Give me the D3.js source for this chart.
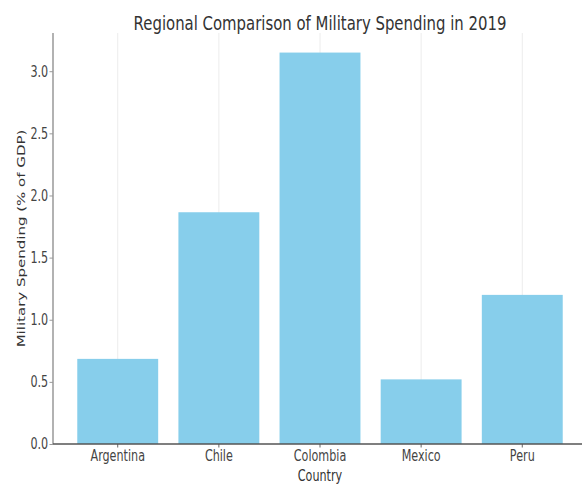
<!DOCTYPE html>
<html>
<head>
<meta charset="utf-8">
<script src="https://cdn.jsdelivr.net/npm/d3@7"></script>
<style>
  body { margin: 0; background: #fff; }
  text { font-family: "DejaVu Sans", sans-serif; fill: #333; }
</style>
</head>
<body>
<svg id="chart" width="582" height="484"></svg>
<script>
// values
const countries = ["Argentina", "Chile", "Colombia", "Mexico", "Peru"];
const spending = [0.685, 1.865, 3.15, 0.52, 1.2];
const yTicks = [0, 0.5, 1.0, 1.5, 2.0, 2.5, 3.0];

const svgWidth = 582, svgHeight = 484;
const plotLeft = 53, plotRight = 587, plotTop = 33, plotBottom = 444;
const barColor = "#87ceeb";
// the source picture looks squeezed sideways, so text is narrowed the same way
const squeeze = 0.745;

const svg = d3.select("#chart");

let x = d3.scaleBand()
  .domain(countries)
  .range([plotLeft, plotRight])
  .paddingInner(0.2)
  .paddingOuter(0.24);

let y = d3.scaleLinear()
  .domain([0, d3.max(spending) * 1.05])
  .range([plotBottom, plotTop]);

// vertical grid at each category
svg.append("g")
  .selectAll("line")
  .data(countries)
  .enter()
  .append("line")
  .attr("x1", d => x(d) + x.bandwidth() / 2)
  .attr("x2", d => x(d) + x.bandwidth() / 2)
  .attr("y1", plotTop)
  .attr("y2", plotBottom)
  .style("stroke", "#ececec")
  .style("stroke-width", 1);

// bars
svg.append("g")
  .selectAll("rect")
  .data(spending)
  .enter()
  .append("rect")
  .attr("x", (d, i) => x(countries[i]))
  .attr("y", d => y(d))
  .attr("width", x.bandwidth())
  .attr("height", d => plotBottom - y(d))
  .style("fill", barColor);

// y axis
let yAxis = svg.append("g")
  .attr("transform", "translate(" + plotLeft + ",0)")
  .call(d3.axisLeft(y).tickValues(yTicks).tickFormat(d3.format(".1f")).tickSizeOuter(0).tickSize(3.5).tickPadding(3));
yAxis.select(".domain").remove();
yAxis.selectAll(".tick line").style("stroke", "#999");
yAxis.selectAll("text")
  .attr("transform", "scale(" + squeeze + ",1)")
  .style("font-size", "15px").style("fill", "#444");

// x axis
let xAxis = svg.append("g")
  .attr("transform", "translate(0," + plotBottom + ")")
  .call(d3.axisBottom(x).tickSizeOuter(0).tickSize(3.5).tickPadding(3));
xAxis.select(".domain").remove();
xAxis.selectAll(".tick line").style("stroke", "#666");
xAxis.selectAll("text")
  .attr("transform", "scale(" + squeeze + ",1)")
  .style("font-size", "15px").style("fill", "#444");

// spines
svg.append("line")
  .attr("x1", plotLeft).attr("x2", plotLeft)
  .attr("y1", plotTop).attr("y2", plotBottom)
  .style("stroke", "#999")
  .style("stroke-width", 1.5);
svg.append("line")
  .attr("x1", plotLeft).attr("x2", svgWidth)
  .attr("y1", plotBottom).attr("y2", plotBottom)
  .style("stroke", "#555")
  .style("stroke-width", 1.5);

// title and labels
svg.append("text")
  .attr("transform", "translate(" + ((plotLeft + plotRight) / 2) + ",30) scale(" + squeeze + ",1)")
  .attr("text-anchor", "middle")
  .style("font-size", "20px")
  .text("Regional Comparison of Military Spending in 2019");

svg.append("text")
  .attr("transform", "translate(" + ((plotLeft + plotRight) / 2) + ",481) scale(" + squeeze + ",1)")
  .attr("text-anchor", "middle")
  .style("font-size", "15px")
  .text("Country");

svg.append("text")
  .attr("transform", "translate(25," + ((plotTop + plotBottom) / 2) + ") scale(" + squeeze + ",1) rotate(-90)")
  .attr("text-anchor", "middle")
  .style("font-size", "15px")
  .text("Military Spending (% of GDP)");
</script>
</body>
</html>
